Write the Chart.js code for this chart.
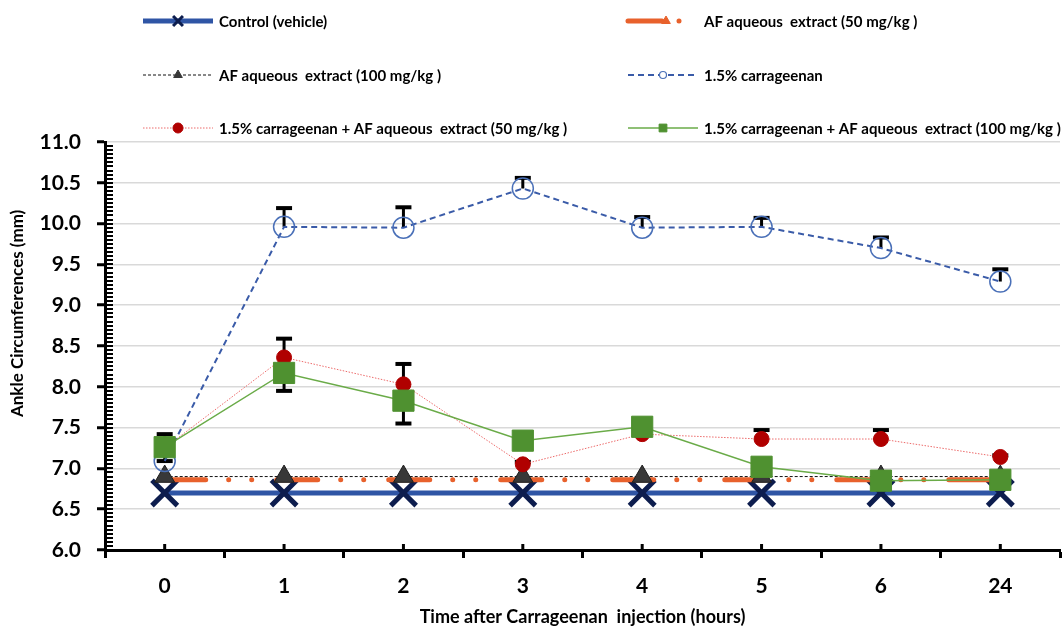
<!DOCTYPE html>
<html>
<head>
<meta charset="utf-8">
<script src="https://cdn.jsdelivr.net/npm/chart.js@4.4.1/dist/chart.umd.min.js"></script>
<style>
html,body{margin:0;padding:0;background:#fff;overflow:hidden;}
#wrap{width:1062px;height:630px;position:relative;}
canvas{display:block;}
</style>
</head>
<body>
<div id="wrap"><canvas id="c"></canvas></div>
<script>
// ---- data ----
const categories = ['0', '1', '2', '3', '4', '5', '6', '24'];
const yTicksMin = 6.0;
const yTicksMax = 11.0;
const yTickStep = 0.5;
const yMinorStep = 0.05;

const seriesNames = [
  'Control (vehicle)',
  'AF aqueous  extract (50 mg/kg )',
  'AF aqueous  extract (100 mg/kg )',
  '1.5% carrageenan',
  '1.5% carrageenan + AF aqueous  extract (50 mg/kg )',
  '1.5% carrageenan + AF aqueous  extract (100 mg/kg )'
];

const controlVals   = [6.70, 6.70, 6.70, 6.70, 6.70, 6.70, 6.70, 6.70];
const af50Vals      = [6.86, 6.86, 6.86, 6.86, 6.86, 6.86, 6.86, 6.86];
const af100Vals     = [6.90, 6.90, 6.90, 6.90, 6.90, 6.90, 6.90, 6.90];
const carrVals      = [7.09, 9.96, 9.95, 10.43, 9.95, 9.96, 9.70, 9.29];
const carrErrPlus   = [0.00, 0.23, 0.25, 0.13, 0.13, 0.11, 0.13, 0.15];
const carrAf50Vals  = [7.25, 8.36, 8.03, 7.05, 7.42, 7.36, 7.36, 7.14];
const carrAf50ErrPlus = [0.17, 0.23, 0.25, 0.03, 0.02, 0.11, 0.11, 0.02];
const carrAf100Vals = [7.26, 8.17, 7.83, 7.34, 7.51, 7.02, 6.85, 6.86];
const carrAf100ErrMinus = [0.17, 0.22, 0.28, 0.05, 0.05, 0.05, 0.05, 0.05];

const xTitle = 'Time after Carrageenan  injection (hours)';
const yTitle = 'Ankle Circumferences (mm)';

// ---- chart ----
const FONT = 'Lato';

const datasets = [
  {
    label: seriesNames[0], data: controlVals, order: 6,
    borderColor: '#2f55a5', borderWidth: 5,
    pointStyle: 'crossRot', pointRadius: 18, pointBorderWidth: 5,
    pointBorderColor: '#0d1d4e', pointBackgroundColor: '#0d1d4e',
    legendMarker: {style: 'crossRot', radius: 7, width: 3, color: '#0d1d4e'}
  },
  {
    label: seriesNames[1], data: af50Vals, order: 5,
    borderColor: '#e8612c', borderWidth: 5, borderCapStyle: 'round',
    borderDash: [41, 23, 0.01, 23, 0.01, 25],
    pointRadius: 0,
    legendDash: [34, 17, 0.01, 100],
    legendMarker: {style: 'triangle', radius: 5, width: 1, color: '#e8612c'}
  },
  {
    label: seriesNames[2], data: af100Vals, order: 4,
    borderColor: '#111', borderWidth: 1, borderDash: [3, 2],
    pointStyle: 'triangle', pointRadius: 11.5, pointBorderWidth: 1,
    pointBackgroundColor: '#383838', pointBorderColor: '#1e1e1e',
    legendMarker: {style: 'triangle', radius: 5, width: 1, color: '#383838'}
  },
  {
    label: seriesNames[3], data: carrVals, order: 3,
    borderColor: '#3a5ba8', borderWidth: 2, borderDash: [6, 4],
    pointStyle: 'circle', pointRadius: 10.5, pointBorderWidth: 1.5,
    pointBackgroundColor: 'rgba(255,255,255,0)', pointBorderColor: '#4a70b8',
    legendMarker: {style: 'circle', radius: 3.5, width: 1.2, color: '#4a70b8', hollow: true}
  },
  {
    label: seriesNames[4], data: carrAf50Vals, order: 2,
    borderColor: '#ec6a6a', borderWidth: 1, borderDash: [1.5, 1.5],
    pointStyle: 'circle', pointRadius: 7.5, pointBorderWidth: 1,
    pointBackgroundColor: '#b00000', pointBorderColor: '#b00000',
    legendMarker: {style: 'circle', radius: 5, width: 1, color: '#b00000'}
  },
  {
    label: seriesNames[5], data: carrAf100Vals, order: 1,
    borderColor: '#6aab48', borderWidth: 1.5,
    pointStyle: 'rect', pointRadius: 15, pointBorderWidth: 1,
    pointBackgroundColor: '#4f9130', pointBorderColor: '#4f9130',
    legendMarker: {style: 'rect', radius: 5.5, width: 1, color: '#4f9130'}
  }
];

const errorBars = [
  {ds: 3, plus: carrErrPlus, minus: null},
  {ds: 4, plus: carrAf50ErrPlus, minus: null},
  {ds: 5, plus: null, minus: carrAf100ErrMinus}
];

const errorBarPlugin = {
  id: 'errorBars',
  beforeDatasetsDraw(chart) {
    const ctx = chart.ctx;
    const ys = chart.scales.y;
    ctx.save();
    ctx.strokeStyle = '#000';
    errorBars.forEach(eb => {
      const meta = chart.getDatasetMeta(eb.ds);
      const vals = chart.data.datasets[eb.ds].data;
      meta.data.forEach((pt, i) => {
        const x = pt.x;
        const y0 = ys.getPixelForValue(vals[i]);
        const ends = [];
        if (eb.plus && eb.plus[i] > 0) ends.push(ys.getPixelForValue(vals[i] + eb.plus[i]));
        if (eb.minus && eb.minus[i] > 0) ends.push(ys.getPixelForValue(vals[i] - eb.minus[i]));
        ends.forEach(ye => {
          ctx.lineWidth = 3;
          ctx.beginPath(); ctx.moveTo(x, y0); ctx.lineTo(x, ye); ctx.stroke();
          ctx.lineWidth = 4;
          ctx.beginPath(); ctx.moveTo(x - 8, ye); ctx.lineTo(x + 8, ye); ctx.stroke();
        });
      });
    });
    ctx.restore();
  }
};

const minorTickPlugin = {
  id: 'minorTicks',
  afterDraw(chart) {
    const ctx = chart.ctx;
    const xs = chart.scales.x, ys = chart.scales.y;
    const area = chart.chartArea;
    ctx.save();
    ctx.strokeStyle = '#000';
    ctx.lineWidth = 2;
    const n = Math.round((yTicksMax - yTicksMin) / yMinorStep);
    for (let i = 1; i < n; i++) {
      const y = Math.round(ys.getPixelForValue(yTicksMin + i * yMinorStep));
      ctx.beginPath(); ctx.moveTo(area.left, y); ctx.lineTo(area.left + 8, y); ctx.stroke();
    }
    ctx.lineWidth = 3;
    for (let i = 0; i < categories.length; i++) {
      const x = xs.getPixelForValue(i);
      ctx.beginPath(); ctx.moveTo(x, area.bottom); ctx.lineTo(x, area.bottom - 6); ctx.stroke();
    }
    // y axis title (placed like the reference, offset upward)
    ctx.save();
    ctx.translate(18, ys.getPixelForValue(8.9));
    ctx.rotate(-Math.PI / 2);
    ctx.fillStyle = '#000';
    ctx.font = 'bold 17px ' + FONT;
    ctx.textAlign = 'center';
    ctx.textBaseline = 'middle';
    ctx.fillText(yTitle, 0, 0);
    ctx.restore();
    ctx.restore();
  }
};

const legendPos = [[0,0],[1,0],[0,1],[1,1],[0,2],[1,2]];
const legendColX = [143, 628];
const legendRowY = [21, 75, 128];
const legendSampleW = 70;

const customLegendPlugin = {
  id: 'customLegend',
  afterDraw(chart) {
    const ctx = chart.ctx;
    const H = Chart.helpers;
    chart.data.datasets.forEach((ds, i) => {
      const [c, r] = legendPos[i];
      const x0 = legendColX[c], y = legendRowY[r];
      ctx.save();
      ctx.strokeStyle = ds.borderColor;
      ctx.lineWidth = ds.borderWidth;
      ctx.lineCap = ds.borderCapStyle || 'butt';
      ctx.setLineDash(ds.legendDash || ds.borderDash || []);
      ctx.beginPath(); ctx.moveTo(x0, y); ctx.lineTo(x0 + legendSampleW, y); ctx.stroke();
      ctx.setLineDash([]);
      const m = ds.legendMarker;
      if (m) {
        const mx = ds.legendDash ? x0 + 38 : x0 + legendSampleW / 2;
        ctx.fillStyle = m.hollow ? '#fff' : m.color;
        ctx.strokeStyle = m.color;
        ctx.lineWidth = m.width;
        ctx.lineCap = 'butt';
        H.drawPoint(ctx, {pointStyle: m.style, radius: m.radius, rotation: 0, borderWidth: m.width}, mx, y);
      }
      ctx.fillStyle = '#000';
      ctx.font = 'bold 15px ' + FONT;
      ctx.textBaseline = 'middle';
      ctx.textAlign = 'left';
      ctx.fillText(ds.label, x0 + 76, y + 1);
      ctx.restore();
    });
  }
};

new Chart(document.getElementById('c'), {
  type: 'line',
  data: {labels: categories, datasets: datasets},
  options: {
    responsive: true,
    maintainAspectRatio: false,
    animation: false,
    layout: {autoPadding: false, padding: {top: 142, right: 2, left: 0, bottom: 0}},
    elements: {line: {tension: 0, fill: false}},
    plugins: {legend: {display: false}, tooltip: {enabled: false}},
    scales: {
      x: {
        type: 'category',
        offset: true,
        afterFit(s) { s.height = 80; s.paddingLeft = 0; s.paddingRight = 0; },
        grid: {display: true, drawOnChartArea: false, drawTicks: true, tickLength: 8,
               offset: true, tickColor: '#000', tickWidth: 3},
        border: {display: true, color: '#000', width: 3},
        ticks: {color: '#000', padding: 16, font: {family: FONT, size: 21, weight: 'bold'}, maxRotation: 0},
        title: {display: true, text: xTitle, color: '#000', padding: {top: 0, bottom: 2},
                font: {family: FONT, size: 18, weight: 'bold'}}
      },
      y: {
        min: yTicksMin, max: yTicksMax,
        afterFit(s) { s.width = 105; },
        grid: {color: '#d9d9d9', lineWidth: 1.5, drawTicks: true, tickLength: 8,
               tickColor: '#000', tickWidth: 3},
        border: {display: true, color: '#000', width: 3},
        ticks: {stepSize: yTickStep, color: '#000', padding: 16,
                font: {family: FONT, size: 21, weight: 'bold'},
                callback: v => Number(v).toFixed(1)},
        title: {display: false}
      }
    }
  },
  plugins: [errorBarPlugin, minorTickPlugin, customLegendPlugin]
});
</script>
</body>
</html>
